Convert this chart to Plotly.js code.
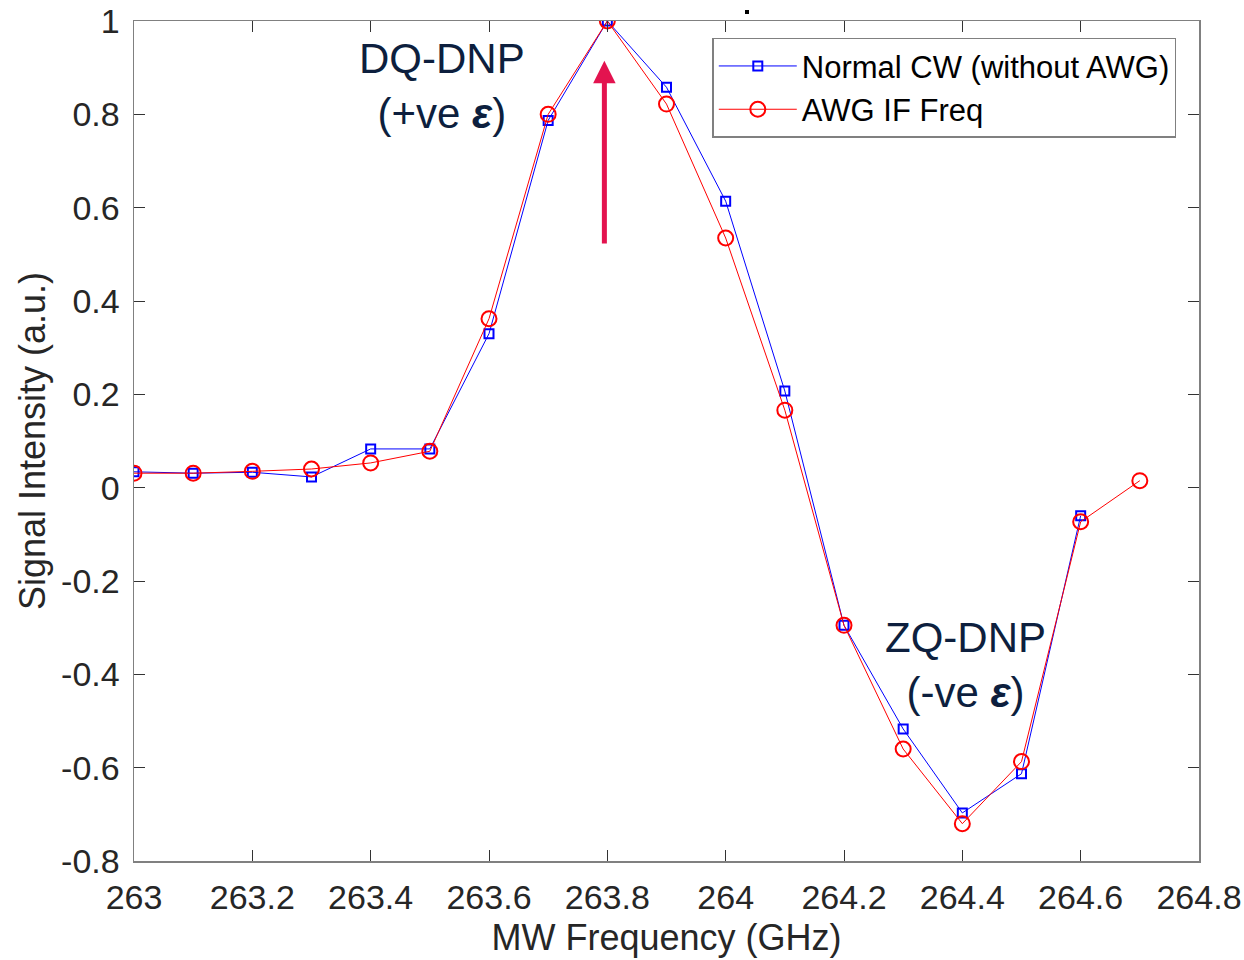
<!DOCTYPE html>
<html>
<head>
<meta charset="utf-8">
<script src="https://cdn.plot.ly/plotly-3.0.1.min.js"></script>
<style>html,body{margin:0;padding:0;background:#fff;}#chart{width:1244px;height:960px;}</style>
</head>
<body>
<div id="chart"></div>
<script>
const freqCW = [263.0, 263.1, 263.2, 263.3, 263.4, 263.5, 263.6, 263.7, 263.8, 263.9, 264.0, 264.1, 264.2, 264.3, 264.4, 264.5, 264.6];
const signalCW = [0.034, 0.031, 0.033, 0.023, 0.083, 0.083, 0.330, 0.787, 1.0, 0.858, 0.614, 0.207, -0.295, -0.517, -0.697, -0.613, -0.060];
const freqAWG = [263.0, 263.1, 263.2, 263.3, 263.4, 263.5, 263.6, 263.7, 263.8, 263.9, 264.0, 264.1, 264.2, 264.3, 264.4, 264.5, 264.6, 264.7];
const signalAWG = [0.031, 0.031, 0.035, 0.040, 0.053, 0.078, 0.362, 0.800, 1.0, 0.822, 0.535, 0.166, -0.295, -0.560, -0.720, -0.587, -0.073, 0.015];
const seriesNames = ["Normal CW (without AWG)", "AWG IF Freq"];
const xTickVals = [263, 263.2, 263.4, 263.6, 263.8, 264, 264.2, 264.4, 264.6, 264.8];
const xTickText = ["263", "263.2", "263.4", "263.6", "263.8", "264", "264.2", "264.4", "264.6", "264.8"];
const yTickVals = [-0.8, -0.6, -0.4, -0.2, 0, 0.2, 0.4, 0.6, 0.8, 1];
const yTickText = ["-0.8", "-0.6", "-0.4", "-0.2", "0", "0.2", "0.4", "0.6", "0.8", "1"];
const xTitle = "MW Frequency (GHz)";
const yTitle = "Signal Intensity (a.u.)";
const dqLabel = "DQ-DNP<br>(+ve <b><i>ε</i></b>)";
const zqLabel = "ZQ-DNP<br>(-ve <b><i>ε</i></b>)";
const arrowTip = {x: 263.795, y: 0.915};
const arrowTail = {x: 263.795, y: 0.52};

const FONT = "Arial, 'Liberation Sans', sans-serif";
const TXT = "#262626";

const traces = [
  {
    x: freqCW, y: signalCW, name: seriesNames[0], type: "scatter", mode: "lines+markers",
    line: {color: "#0000ff", width: 1},
    marker: {symbol: "square-open", size: 9, color: "#0000ff", line: {width: 2, color: "#0000ff"}}
  },
  {
    x: freqAWG, y: signalAWG, name: seriesNames[1], type: "scatter", mode: "lines+markers",
    line: {color: "#ff0000", width: 1},
    marker: {symbol: "circle-open", size: 15, color: "#ff0000", line: {width: 2, color: "#ff0000"}}
  }
];

const axisCommon = {
  showline: true, mirror: "ticks", linecolor: "#808080", linewidth: 1.5,
  ticks: "inside", ticklen: 11, tickwidth: 1, tickcolor: "#333333",
  showgrid: false, zeroline: false,
  tickfont: {family: FONT, size: 34, color: TXT}
};

const layout = {
  width: 1244, height: 960,
  margin: {l: 134, r: 45, t: 21, b: 99},
  paper_bgcolor: "#ffffff", plot_bgcolor: "#ffffff",
  showlegend: true,
  legend: {
    x: 0.543, y: 0.98, xanchor: "left", yanchor: "top",
    bgcolor: "#ffffff", bordercolor: "#808080", borderwidth: 1.5,
    font: {family: FONT, size: 31, color: "#000000"},
    itemwidth: 78,
    tracegroupgap: 0
  },
  xaxis: Object.assign({}, axisCommon, {
    range: [263, 264.8], tickmode: "array", tickvals: xTickVals, ticktext: xTickText,
    ticklabelstandoff: 6,
    title: {text: xTitle, font: {family: FONT, size: 36, color: TXT}, standoff: 9}
  }),
  yaxis: Object.assign({}, axisCommon, {
    range: [-0.8, 1], tickmode: "array", tickvals: yTickVals, ticktext: yTickText,
    ticklabelstandoff: 6,
    title: {text: yTitle, font: {family: FONT, size: 36, color: TXT}, standoff: 4}
  }),
  annotations: [
    {x: 263.52, y: 0.86, xref: "x", yref: "y", text: dqLabel, showarrow: false,
     font: {family: FONT, size: 42, color: "#0d1f3e"}, align: "center"},
    {x: 264.405, y: -0.38, xref: "x", yref: "y", text: zqLabel, showarrow: false,
     font: {family: FONT, size: 42, color: "#0d1f3e"}, align: "center"},
    {x: arrowTip.x, y: arrowTip.y, ax: arrowTail.x, ay: arrowTail.y, xref: "x", yref: "y", axref: "x", ayref: "y",
     text: "", showarrow: true, arrowhead: 2, arrowsize: 0.9, arrowwidth: 5, arrowcolor: "#e3134f"}
  ],
  shapes: [
    {type: "rect", xref: "paper", yref: "paper", xsizemode: "pixel", ysizemode: "pixel",
     xanchor: 0.5756, yanchor: 1.0107, x0: -2, x1: 2, y0: -2, y1: 2,
     fillcolor: "#000000", line: {width: 0}}
  ]
};

Plotly.newPlot("chart", traces, layout, {displayModeBar: false, staticPlot: true});
</script>
</body>
</html>
